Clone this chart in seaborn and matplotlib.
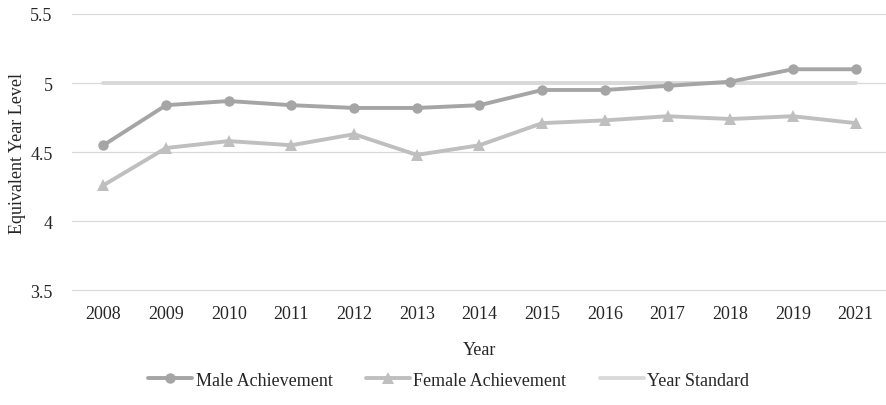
#!/usr/bin/env python3
"""
Equivalent year level by gender against the year standard.
"""
import matplotlib
matplotlib.use("Agg")
import matplotlib.pyplot as plt
import seaborn as sns

years = ["2008", "2009", "2010", "2011", "2012", "2013", "2014",
         "2015", "2016", "2017", "2018", "2019", "2021"]
male = [4.55, 4.84, 4.87, 4.84, 4.82, 4.82, 4.84,
        4.95, 4.95, 4.98, 5.01, 5.10, 5.10]
female = [4.26, 4.53, 4.58, 4.55, 4.63, 4.48, 4.55,
          4.71, 4.73, 4.76, 4.74, 4.76, 4.71]
standard = [5.0] * len(years)

sns.set_style("white")
plt.rcParams["font.family"] = ["Liberation Serif", "DejaVu Serif"]
fs = 13

fig = plt.figure(figsize=(8.87, 4.06), dpi=100)
ax = fig.add_axes([72 / 887, 1 - 292 / 406, 815 / 887, 277 / 406])

sns.lineplot(x=years, y=standard, ax=ax, color="#d9d9d9", linewidth=2.8,
             label="Year Standard", zorder=2)
sns.lineplot(x=years, y=male, ax=ax, color="#a5a5a5", linewidth=2.8,
             marker="o", markersize=7.5, markeredgewidth=0,
             label="Male Achievement", zorder=3)
sns.lineplot(x=years, y=female, ax=ax, color="#bfbfbf", linewidth=2.8,
             marker="^", markersize=8, markeredgewidth=0,
             label="Female Achievement", zorder=3)

ax.set_xlim(-0.5, len(years) - 0.5)
ax.set_ylim(3.495, 5.5)
ax.set_yticks([3.5, 4, 4.5, 5, 5.5])
ax.set_yticklabels(["3.5", "4", "4.5", "5", "5.5"])
ax.yaxis.grid(True, color="#d9d9d9", linewidth=0.9)
for gl in ax.get_ygridlines():
    gl.set_clip_on(False)
ax.set_axisbelow(True)
for side in ["top", "right", "left", "bottom"]:
    ax.spines[side].set_visible(False)
ax.tick_params(axis="y", length=0, labelsize=fs, pad=14)
ax.tick_params(axis="x", length=0, labelsize=fs, pad=10)

ax.set_xlabel("Year", fontsize=fs, labelpad=14)
ax.set_ylabel("Equivalent Year Level", fontsize=fs)
ax.yaxis.set_label_coords(-0.057, 0.5)

handles, labels = ax.get_legend_handles_labels()
order = ["Male Achievement", "Female Achievement", "Year Standard"]
idx = [labels.index(o) for o in order]
ax.legend([handles[i] for i in idx], [labels[i] for i in idx],
          loc="center", bbox_to_anchor=(0.462, -0.322), ncol=3,
          frameon=False, fontsize=fs, handlelength=2.45,
          handletextpad=0.17, columnspacing=1.85)

plt.savefig("out.png", dpi=100)
